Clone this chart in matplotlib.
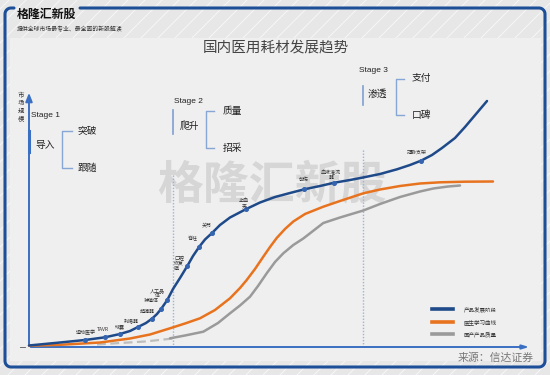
import matplotlib.pyplot as plt
import numpy as np
from matplotlib.patches import Rectangle
from matplotlib.path import Path
from matplotlib.patches import PathPatch

plt.rcParams['font.family'] = ['Noto Sans CJK SC', 'DejaVu Sans']

# curves (x to the right, y downward in pixels)
blue_x = [29, 60, 85, 105, 120, 130, 138, 146, 152, 157, 161.3, 167.3, 173, 180, 187.3, 193,
          199.3, 205, 211.7, 220, 230, 245.7, 260, 275, 290, 304.3, 320, 334.3, 350, 363, 380,
          397, 410, 421, 432, 442, 455, 465, 476, 487]
blue_y = [345.5, 342.5, 340, 337.3, 334, 331, 327, 323, 318.7, 314, 308.7, 300, 289, 278, 266, 256,
          246.7, 239.5, 233.3, 225, 217.5, 209.3, 202.5, 197, 193, 189.3, 186, 182.7, 180, 177.5, 174,
          169.3, 165, 160.7, 155, 148, 138, 127, 114, 101]

orange_x = [29, 60, 100, 130, 150, 170, 185, 200, 215, 230, 240, 246.7, 255, 263.3, 270, 276.7,
            285, 293.3, 305, 323.3, 340, 363.3, 380, 400, 420, 440, 465, 493]
orange_y = [345.7, 344.8, 342.5, 338.5, 334.5, 328.3, 323.5, 318.3, 310, 298.3, 288, 280, 269, 256.7,
            247, 238, 229, 221.5, 214, 206.7, 201, 193.3, 189.5, 186, 183.5, 182.3, 181.7, 181.5]

gray_dash_x = [97, 120, 145, 173]
gray_dash_y = [344.5, 343, 341.5, 338.5]
gray_x = [170, 185, 203.3, 218, 230, 240, 250, 258, 266.7, 275, 283.3, 293.3, 303.3, 323.3, 340,
          363.3, 380, 400, 420, 433.3, 448, 460]
gray_y = [338.3, 335.5, 331.7, 323, 313.3, 305.5, 296.7, 286, 273.3, 262, 253.3, 245, 238.5, 223, 217.5,
          210.5, 204, 197, 191.5, 188.5, 186.5, 185.5]

# products along the blue curve
prod_names = ["运动医学", "TAVR", "球囊", "封堵器", "起搏器", "种植体", "人工晶\n体", "口腔\n修复\n膜",
              "脊柱", "关节", "止血\n夹", "创伤", "血液灌流\n器", "冠脉支架"]
prod_x = [85, 105, 120, 137.7, 151.7, 161.3, 167.3, 187.3, 199.3, 211.7, 245.7, 304.3, 334.3, 421]
prod_y = [340, 337.3, 334, 327, 318.7, 308.7, 300, 266, 246.7, 233.3, 209.3, 189.3, 182.7, 160.7]
label_x = [86, 103, 120, 131, 147, 151, 157, 174, 193, 207, 244, 304, 331, 417]
label_y = [335, 332, 329, 323, 313.5, 303, 293, 263, 241, 227.5, 203, 182, 175, 154.5]
label_ha = ["center", "center", "center", "center", "center", "center", "center", "left",
            "center", "center", "center", "center", "center", "center"]

legend_labels = ["产品发展阶段", "医生学习曲线", "国产产品质量"]

C_BLUE = "#1f4a8a"
C_ORANGE = "#e8731f"
C_GRAY = "#9a9a9a"
C_AXIS = "#3b6fc2"
C_BRACKET = "#86a6d6"
C_FRAME = "#1d4f98"

fig = plt.figure(figsize=(5.5, 3.75), dpi=100)
fig.patch.set_facecolor("#e7e7e7")
ax = fig.add_axes([0, 0, 1, 1])
ax.set_xlim(0, 550)
ax.set_ylim(375, 0)
ax.axis("off")

# striped background
for x0 in np.arange(-400, 560, 17):
    ax.plot([x0, x0 + 375], [375, 0], color="white", lw=0.6, alpha=0.7, zorder=0)

# inner panel
ax.add_patch(Rectangle((10, 38), 531, 323, facecolor="#efefef", edgecolor="none", zorder=1))

# frame with a gap for the header title
r = 6
t = np.linspace(0, np.pi / 2, 10)
pts = [(80, 8), (545 - r, 8)]
pts += [(545 - r + r * np.sin(a), 8 + r - r * np.cos(a)) for a in t]
pts += [(545, 367 - r)]
pts += [(545 - r + r * np.cos(a), 367 - r + r * np.sin(a)) for a in t]
pts += [(5 + r, 367)]
pts += [(5 + r - r * np.sin(a), 367 - r + r * np.cos(a)) for a in t]
pts += [(5, 8 + r)]
pts += [(5 + r - r * np.cos(a), 8 + r - r * np.sin(a)) for a in t]
pts += [(14, 8)]
ax.add_patch(PathPatch(Path(pts), facecolor="none", edgecolor=C_FRAME, lw=2.2, zorder=5,
                       capstyle="round", joinstyle="round"))

# header
ax.text(16.5, 14, "格隆汇新股", fontsize=8.6, fontweight="bold", color="#111111", va="center", zorder=6)
ax.text(16.5, 29.5, "提供全球市场最专业、最全面的新股解读", fontsize=4.2, color="#333333", va="center", zorder=6)

# watermark
ax.text(272, 186, "格隆汇新股", fontsize=33, fontweight="bold", color="#d6d6d6", ha="center",
        va="center", zorder=2)

# title
ax.text(276, 48, "国内医用耗材发展趋势", fontsize=10.5, color="#444444", ha="center", va="center", zorder=6)

# axes
ax.annotate("", xy=(29, 90), xytext=(29, 347.5),
            arrowprops=dict(arrowstyle="-|>,head_length=0.5,head_width=0.2", color=C_AXIS, lw=1.4), zorder=4)
ax.annotate("", xy=(532, 347), xytext=(28, 347),
            arrowprops=dict(arrowstyle="-|>,head_length=0.4,head_width=0.12", color=C_AXIS, lw=1.4), zorder=4)
ax.text(21, 107, "市\n场\n规\n模", fontsize=4.6, color="#333333", ha="center", va="center",
        linespacing=1.05, zorder=6)
ax.plot([20, 25], [347, 347], color="#555555", lw=0.6, zorder=4)

# stage separators
ax.plot([173.3, 173.3], [175, 345], color="#9db3d8", lw=1.0, ls=(0, (1, 1.2)), zorder=3)
ax.plot([363.3, 363.3], [150, 345], color="#9db3d8", lw=1.0, ls=(0, (1, 1.2)), zorder=3)

# stage annotations
stages = [
    dict(name="Stage 1", nx=31, ny=115.5, bar=(29, 131, 152), word="导入", wx=35, wy=145,
         br=(62, 72, 131, 168), top="突破", bot="跟随", tx=78),
    dict(name="Stage 2", nx=173.5, ny=101.5, bar=(173.3, 110, 134), word="爬升", wx=179.5, wy=126,
         br=(206, 214, 111, 148), top="质量", bot="招采", tx=222.5),
    dict(name="Stage 3", nx=359, ny=71, bar=(362.7, 86, 105), word="渗透", wx=367.5, wy=93.5,
         br=(396, 404, 78.5, 115), top="支付", bot="口碑", tx=411.5),
]
for s in stages:
    ax.text(s["nx"], s["ny"], s["name"], fontsize=6, color="#222222", va="center",
            family="Liberation Sans", zorder=6)
    bx, b0, b1 = s["bar"]
    ax.plot([bx, bx], [b0, b1], color=C_AXIS if bx < 30 else "#7f9fd0", lw=2.2 if bx < 30 else 1.2, zorder=4)
    ax.text(s["wx"], s["wy"], s["word"], fontsize=7, color="#222222", va="center", zorder=6)
    x0, x1, y0, y1 = s["br"]
    ax.plot([x1, x0, x0, x1], [y0, y0, y1, y1], color=C_BRACKET, lw=1.0, zorder=4)
    ax.text(s["tx"], y0, s["top"], fontsize=7, color="#222222", va="center", zorder=6)
    ax.text(s["tx"], y1, s["bot"], fontsize=7, color="#222222", va="center", zorder=6)

# curves
ax.plot(gray_dash_x, gray_dash_y, color="#bdbdbd", lw=1.6, ls=(0, (4, 2)), zorder=6)
ax.plot(gray_x, gray_y, color=C_GRAY, lw=1.8, zorder=6, solid_capstyle="round")
ax.plot(orange_x, orange_y, color=C_ORANGE, lw=1.8, zorder=7, solid_capstyle="round")
ax.plot(blue_x, blue_y, color=C_BLUE, lw=1.8, zorder=8, solid_capstyle="round")
ax.plot(prod_x, prod_y, ls="none", marker="o", ms=2.6, color="#3565b0", mec="#3565b0", zorder=9)
for name, lx, ly, ha in zip(prod_names, label_x, label_y, label_ha):
    ax.text(lx, ly, name, fontsize=3.6, color="#333333", ha=ha, va="bottom" if "\n" not in name else "center",
            linespacing=1.1, zorder=9)

# legend
for yy, col, lab in zip([309, 322.3, 334.3], [C_BLUE, C_ORANGE, C_GRAY], legend_labels):
    ax.plot([432, 453], [yy, yy], color=col, lw=2.6, zorder=6)
    ax.text(464, yy, lab, fontsize=4, color="#333333", va="center", zorder=6)

ax.text(534, 358, "来源：信达证券", fontsize=7.8, color="#777777", ha="right", va="center", zorder=6)

fig.savefig("out.png", dpi=100, facecolor=fig.get_facecolor())
